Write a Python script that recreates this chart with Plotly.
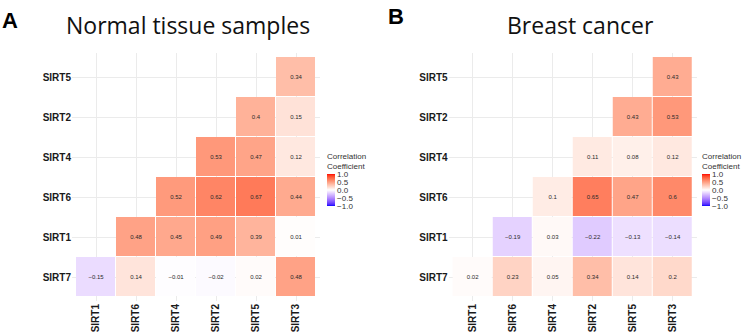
import plotly.graph_objects as go
import numpy as np

cols = ["SIRT1", "SIRT6", "SIRT4", "SIRT2", "SIRT5", "SIRT3"]
rows = ["SIRT5", "SIRT2", "SIRT4", "SIRT6", "SIRT1", "SIRT7"]  # top to bottom

N = None
normal_vals = [
    [N, N, N, N, N, 0.34],
    [N, N, N, N, 0.40, 0.15],
    [N, N, N, 0.53, 0.47, 0.12],
    [N, N, 0.52, 0.62, 0.67, 0.44],
    [N, 0.48, 0.45, 0.49, 0.39, 0.01],
    [-0.15, 0.14, -0.01, -0.02, 0.02, 0.48],
]
cancer_vals = [
    [N, N, N, N, N, 0.43],
    [N, N, N, N, 0.43, 0.53],
    [N, N, N, 0.11, 0.08, 0.12],
    [N, N, 0.10, 0.65, 0.47, 0.60],
    [N, -0.19, 0.03, -0.22, -0.13, -0.14],
    [0.02, 0.23, 0.05, 0.34, 0.14, 0.20],
]
titles = ["Normal tissue samples", "Breast cancer"]
panel_letters = ["A", "B"]
cb_ticks = [-1.0, -0.5, 0.0, 0.5, 1.0]
cb_ticktext = ["\u22121.0", "\u22120.5", "0.0", "0.5", "1.0"]


# ---- blue-white-red colour scale interpolated in Lab space (like ggplot) ----
def srgb_to_lab(rgb):
    c = np.array(rgb) / 255.0
    c = np.where(c > 0.04045, ((c + 0.055) / 1.055) ** 2.4, c / 12.92)
    M = np.array([[0.4124, 0.3576, 0.1805], [0.2126, 0.7152, 0.0722], [0.0193, 0.1192, 0.9505]])
    xyz = M @ c
    xyz = xyz / np.array([0.95047, 1.0, 1.08883])
    f = np.where(xyz > 0.008856, np.cbrt(xyz), 7.787 * xyz + 16 / 116)
    return np.array([116 * f[1] - 16, 500 * (f[0] - f[1]), 200 * (f[1] - f[2])])


def lab_to_srgb(lab):
    L, a, b = lab
    fy = (L + 16) / 116
    fx = fy + a / 500
    fz = fy - b / 200
    f = np.array([fx, fy, fz])
    xyz = np.where(f ** 3 > 0.008856, f ** 3, (f - 16 / 116) / 7.787)
    xyz = xyz * np.array([0.95047, 1.0, 1.08883])
    Mi = np.array([[3.2406, -1.5372, -0.4986], [-0.9689, 1.8758, 0.0415], [0.0557, -0.2040, 1.0570]])
    c = Mi @ xyz
    c = np.where(c > 0.0031308, 1.055 * np.clip(c, 0, None) ** (1 / 2.4) - 0.055, 12.92 * c)
    c = np.clip(c, 0, 1) * 255
    return "rgb(%d,%d,%d)" % tuple(np.round(c).astype(int))


lab_blue = srgb_to_lab([0, 0, 255])
lab_white = srgb_to_lab([255, 255, 255])
lab_red = srgb_to_lab([255, 0, 0])
cscale = []
for s in np.linspace(0, 1, 41):
    v = 2 * s - 1
    if v < 0:
        lab = lab_white + (lab_blue - lab_white) * (-v)
    else:
        lab = lab_white + (lab_red - lab_white) * v
    cscale.append([float(s), lab_to_srgb(lab)])


def fmt(v):
    if v is None:
        return ""
    s = ("%.2f" % v).rstrip("0").rstrip(".")
    return s.replace("-", "\u2212")


W, H = 745, 333
x_left = [72, 448.7]
cell = 40
pad = 4
top_px = 53
bot_px = top_px + 6 * cell + 2 * pad
cb_x = [327, 702]

fig = go.Figure()
for i, vals in enumerate([normal_vals, cancer_vals]):
    z = [[np.nan if v is None else v for v in r] for r in vals]
    text = [[fmt(v) for v in r] for r in vals]
    ax = "" if i == 0 else "2"
    fig.add_trace(go.Heatmap(
        z=z, x=cols, y=rows, text=text, texttemplate="%{text}",
        textfont=dict(size=6, color="#2a2a2a", family="Liberation Sans"),
        colorscale=cscale, zmin=-1, zmax=1, xgap=1, ygap=1,
        xaxis="x" + ax, yaxis="y" + ax, hoverongaps=False,
        colorbar=dict(
            x=cb_x[i] / W, xanchor="left", xpad=0, ypad=0,
            y=1 - 150 / H, yanchor="top",
            thickness=8, lenmode="pixels", len=56, outlinewidth=0,
            tickvals=cb_ticks, ticktext=cb_ticktext,
            ticks="", tickfont=dict(size=8, color="#333333", family="Liberation Sans"),
            title=dict(text="Correlation<br>Coefficient", side="top",
                       font=dict(size=8, color="#333333", family="Liberation Sans")),
        ),
    ))
    dom_x = [x_left[i] / W, (x_left[i] + 6 * cell + 2 * pad) / W]
    dom_y = [1 - bot_px / H, 1 - top_px / H]
    common = dict(showgrid=True, gridcolor="#EBEBEB", gridwidth=1, zeroline=False,
                  showline=False, ticks="", type="category",
                  tickfont=dict(size=10, color="#1a1a1a", family="Liberation Sans"))
    fig.layout["xaxis" + ax] = dict(domain=dom_x, anchor="y" + ax, range=[-0.6, 5.6],
                                    tickangle=-90, categoryorder="array", categoryarray=cols,
                                    ticktext=["<b>%s</b>" % c for c in cols], tickvals=cols, **common)
    fig.layout["yaxis" + ax] = dict(domain=dom_y, anchor="x" + ax, range=[5.6, -0.6],
                                    categoryorder="array", categoryarray=rows,
                                    ticktext=["<b>%s</b>" % r for r in rows], tickvals=rows, **common)

title_cx = [188, 580]
letter_x = [0, 386]
letter_y = [6, 2]
for i in range(2):
    fig.add_annotation(text=titles[i], x=title_cx[i] / W, y=1 - 43 / H, xref="paper", yref="paper",
                       xanchor="center", yanchor="bottom", showarrow=False,
                       font=dict(size=23, color="#111111", family="Open Sans"))
    fig.add_annotation(text="<b>%s</b>" % panel_letters[i], x=letter_x[i] / W, y=1 - letter_y[i] / H,
                       xref="paper", yref="paper", xanchor="left", yanchor="top", showarrow=False,
                       font=dict(size=22, color="#000000", family="Liberation Sans"))

fig.update_layout(width=W, height=H, margin=dict(l=0, r=0, t=0, b=0),
                  paper_bgcolor="white", plot_bgcolor="white", showlegend=False)
fig.write_html("out.html")
